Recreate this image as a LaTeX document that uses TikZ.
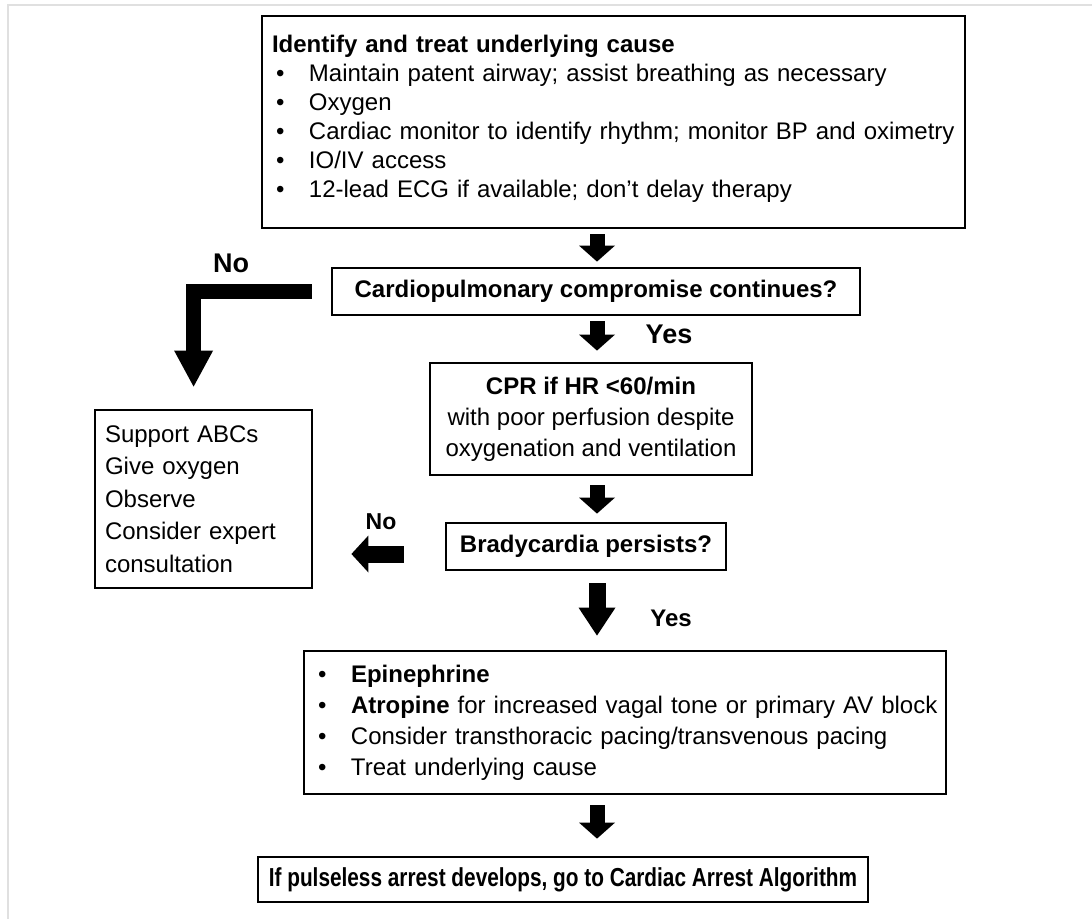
\documentclass[tikz,border=0pt]{standalone}
\usepackage{fontspec}
\setmainfont{Liberation Sans}
\newfontfamily\narrowfont[FakeStretch=0.8]{Liberation Sans}
\usetikzlibrary{arrows.meta}
\newcommand{\itm}{\hspace*{2pt}\makebox[16.5pt][l]{\textbullet}}
\begin{document}
\begin{tikzpicture}[x=0.5pt, y=-0.5pt,
        font=\fontsize{12}{14.5}\selectfont,
        box/.style={draw, line width=1.4pt, inner xsep=5pt, inner ysep=0pt},
        flow/.style={line width=7.5pt, -{Triangle[width=18pt, length=8pt, line width=0pt]}},
        tag/.style={font=\fontsize{12}{14}\selectfont\bfseries}]
        \useasboundingbox (0,0) rectangle (1092,919);
        \draw[black!12, line width=0.8pt] (8,919) -- (8,5) -- (1092,5);
        \coordinate (spine) at (597,0);
        % boxes
        \node[box, minimum width=351.5pt, minimum height=106pt, text width=341.5pt, align=left] (cause) at (613.5,122)
            {\textbf{Identify and treat underlying cause}\\
             \itm Maintain patent airway; assist breathing as necessary\\
             \itm Oxygen\\
             \itm Cardiac monitor to identify rhythm; monitor BP and oximetry\\
             \itm IO/IV access\\
             \itm 12-lead ECG if available; don’t delay therapy\rule[-6pt]{0pt}{0pt}};
        \node[box, minimum width=264pt, minimum height=23.5pt, font=\fontsize{12}{14.5}\selectfont\bfseries] (compromise) at (596,291.5) {Cardiopulmonary compromise continues?};
        \node[box, minimum width=161pt, minimum height=56pt, align=center, font=\fontsize{12}{15.5}\selectfont] (cpr) at (591,419)
            {\textbf{CPR if HR <60/min}\\ with poor perfusion despite\\ oxygenation and ventilation};
        \node[box, minimum width=108.5pt, minimum height=89pt, text width=98.5pt, align=left, font=\fontsize{12}{16.25}\selectfont] (support) at (203.5,499)
            {Support ABCs\\ Give oxygen\\ Observe\\ Consider expert\\ consultation};
        \node[box, minimum width=140pt, minimum height=23.5pt, font=\fontsize{12}{14.5}\selectfont\bfseries] (brady) at (586,546.5) {Bradycardia persists?};
        \node[box, inner xsep=2.5pt, minimum width=321pt, minimum height=71.5pt, text width=316pt, align=left, font=\fontsize{12}{15.5}\selectfont] (treat) at (625,722.5)
            {\hspace*{2.5pt}\itm \textbf{Epinephrine}\\
             \hspace*{2.5pt}\itm \textbf{Atropine} for increased vagal tone or primary AV block\\
             \hspace*{2.5pt}\itm Consider transthoracic pacing/transvenous pacing\\
             \hspace*{2.5pt}\itm Treat underlying cause};
        \node[box, minimum width=305pt, minimum height=22.5pt, font=\narrowfont\fontsize{13}{15}\selectfont\bfseries] (arrest) at (563,879.5) {If pulseless arrest develops, go to Cardiac Arrest Algorithm};
        % arrows
        \draw[flow, shorten <=2.5pt, shorten >=2.5pt] (cause.south -| spine) -- (compromise.north -| spine);
        \draw[flow, shorten <=2.5pt, shorten >=5.5pt] (compromise.south -| spine) -- (cpr.north -| spine);
        \draw[flow, shorten <=4.5pt, shorten >=4pt] (cpr.south -| spine) -- (brady.north -| spine);
        \draw[flow, line width=8.5pt, -{Triangle[width=18.5pt, length=14pt, line width=0pt]}, shorten <=6pt, shorten >=7pt] (brady.south -| spine) -- (treat.north -| spine);
        \draw[flow, shorten <=5pt, shorten >=8.5pt] (treat.south -| spine) -- (arrest.north -| spine);
        \draw[flow, line join=miter, -{Triangle[width=19.5pt, length=18pt, line width=0pt]}, shorten <=9.5pt, shorten >=11pt] (compromise.west) -| ([xshift=50pt]support.north west);
        \coordinate (nobrady) at ([yshift=-3.75pt]brady.west);
        \draw[flow, line width=8.5pt, -{Triangle[width=18.5pt, length=8.5pt, line width=0pt]}, shorten <=20.5pt, shorten >=19pt] (nobrady) -- (nobrady -| support.east);
        % labels
        \node[tag, font=\fontsize{13.5}{15}\selectfont\bfseries] (no1) at (231,263) {No};
        \node[tag, font=\fontsize{13.5}{15}\selectfont\bfseries] (yes1) at (669,334) {Yes};
        \node[tag, font=\fontsize{11.5}{13}\selectfont\bfseries] (no2) at (381,522) {No};
        \node[tag] (yes2) at (671,618) {Yes};
\end{tikzpicture}
\end{document}
